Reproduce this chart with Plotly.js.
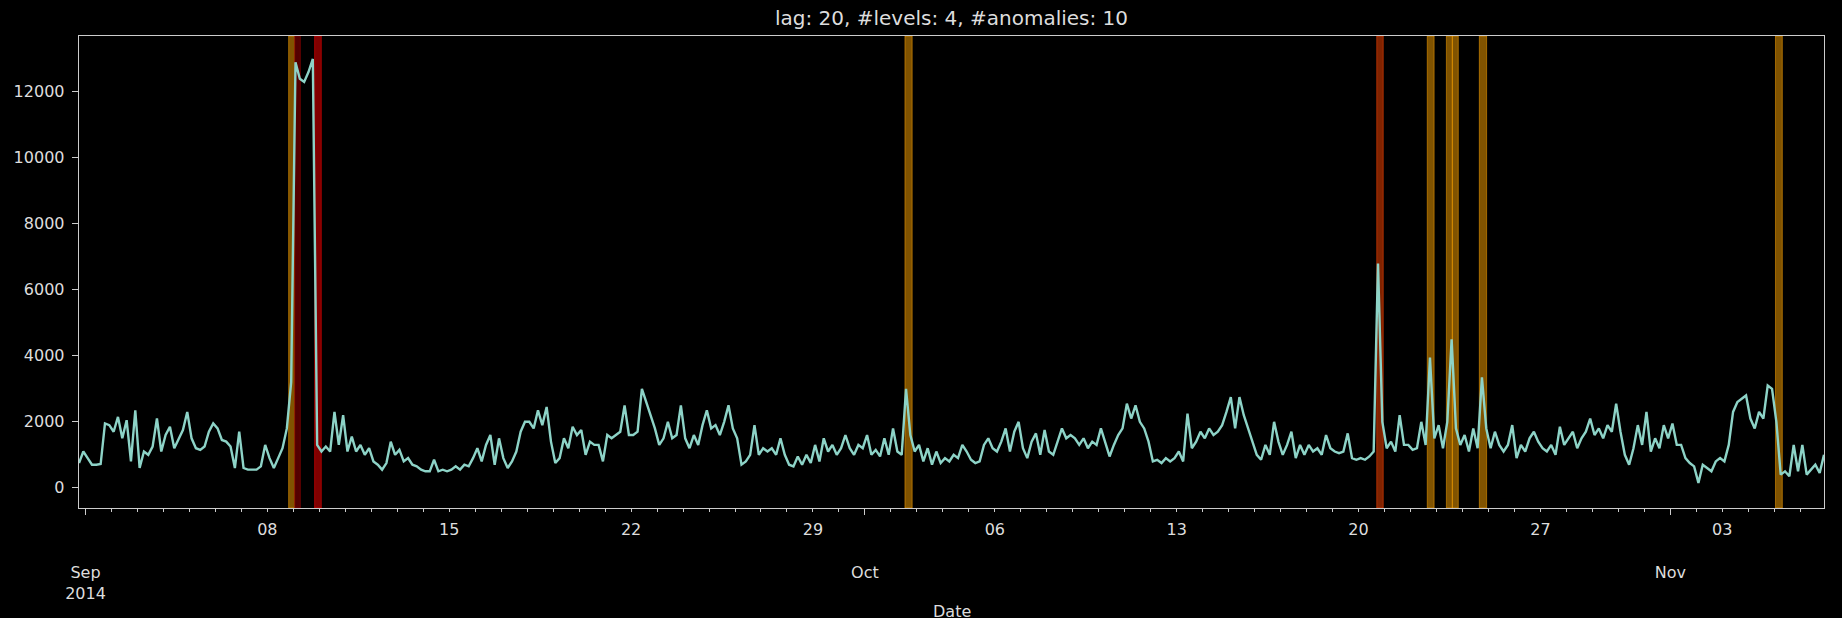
<!DOCTYPE html>
<html>
<head>
<meta charset="utf-8">
<script src="https://cdn.plot.ly/plotly-3.0.1.min.js"></script>
<style>
  html, body { margin: 0; padding: 0; background: #000; }
  #chart { width: 1842px; height: 618px; }
</style>
</head>
<body>
<div id="chart"></div>
<script>
// ---- data ----
const seriesStart = "2014-08-31 18:00";   // first sample
const stepHours = 4;                       // sampling step of the values below
const values = [
  750,1100,900,700,700,720,1950,1900,1700,2150,
  1500,2050,800,2350,600,1100,1000,1250,2100,1100,
  1600,1850,1200,1500,1750,2300,1500,1200,1150,1250,
  1700,1950,1800,1450,1400,1250,600,1700,600,550,
  550,550,650,1300,900,600,900,1200,1800,3200,
  12900,12400,12300,12600,13000,1300,1100,1250,1100,2300,
  1300,2200,1100,1550,1100,1300,1000,1200,800,700,
  550,750,1400,1000,1150,800,900,700,650,550,
  500,500,850,500,550,500,550,650,550,700,
  650,900,1200,800,1300,1600,700,1500,900,600,
  800,1100,1700,2000,
  2000,1800,2350,1900,2450,1400,
  750,900,1500,1200,1850,1600,1750,1000,1400,1300,
  1300,800,1600,1500,1600,1700,2500,1600,1600,1700,
  3000,2600,2200,1800,1300,1500,2000,1500,1600,2500,
  1500,1200,1600,1300,1900,2350,1800,1900,1600,2000,
  2500,1800,1500,700,800,1000,1900,1000,1200,1100,
  1200,1000,1500,1000,700,650,950,700,1000,750,
  1300,800,1500,1100,1300,1000,1200,1600,1200,1000,
  1300,1200,1600,1000,1150,950,1500,1000,1800,1100,
  1000,3000,1600,1100,1300,800,1200,700,1100,750,
  900,800,1000,900,1300,
  1100,850,750,800,1300,
  1500,1200,1100,1400,1800,1100,1700,2000,1200,900,
  1400,1650,1000,1750,1100,1000,1400,1800,1500,1600,
  1500,1300,1500,1200,1400,1300,1800,1400,950,1300,
  1600,1800,2550,2100,2500,2000,1800,1400,800,850,
  750,900,800,900,1100,800,2250,1200,1400,1700,
  1500,1800,1600,1700,1900,2300,2750,1800,2750,2200,
  1800,1400,1000,850,1300,1000,2000,1400,1000,1300,
  1700,900,1300,1000,1300,1100,1200,1000,1600,1200,
  1100,1050,1100,1650,900,850,900,850,950,1100,
  6800,2000,1200,1400,1100,2200,1300,
  1300,1150,1200,
  2000,1300,3950,1500,1900,1200,2000,4500,1800,1300,
  1600,1100,1800,1200,3350,1800,1200,1700,1300,1100,
  1300,1900,900,1300,1100,1500,1700,1400,1200,1100,
  1300,1000,1850,1300,1500,1700,1200,1500,1700,2100,
  1600,1800,1500,1900,1700,2550,1700,1000,700,1200,
  1900,1300,2300,1100,1500,1200,1900,1500,1950,1300,
  1300,900,750,650,150,700,600,500,800,900,
  800,1300,2300,2600,2700,2800,2100,1800,2300,2100,
  3100,3000,2000,400,500,350,1300,500,1300,400,
  550,700,450,1000
];

// anomaly bands (start, end, level colour)
const bandStarts = ["2014-09-08 19:40","2014-09-09 01:10","2014-09-09 19:40","2014-10-02 13:00","2014-10-20 16:50",
                    "2014-10-22 15:30","2014-10-23 09:10","2014-10-23 14:40","2014-10-24 15:36","2014-11-05 01:10"];
const bandEnds   = ["2014-09-09 01:10","2014-09-09 06:30","2014-09-10 01:50","2014-10-02 19:40","2014-10-20 22:50",
                    "2014-10-22 21:50","2014-10-23 14:40","2014-10-23 20:10","2014-10-24 22:20","2014-11-05 07:30"];
const bandLevels = ["orange","darkred","red","orange","orangered","orange","orange","orange","orange","orange"];
const levelColors = {
  orange:    "rgba(255,165,0,0.5)",
  orangered: "rgba(255,69,0,0.5)",
  red:       "rgba(255,0,0,0.5)",
  darkred:   "rgba(139,0,0,0.6)"
};

// axis ticks
const weekTicks  = ["2014-09-08","2014-09-15","2014-09-22","2014-09-29","2014-10-06","2014-10-13","2014-10-20","2014-10-27","2014-11-03"];
const weekLabels = ["08","15","22","29","06","13","20","27","03"];
const monthTicks  = ["2014-09-01","2014-10-01","2014-11-01"];
const monthLabels = ["Sep<br>2014","Oct","Nov"];
const yTicks      = [0,2000,4000,6000,8000,10000,12000];
const yTickLabels = ["0","2000","4000","6000","8000","10000","12000"];

const xRange = ["2014-08-31 18:00","2014-11-06 22:00"];
const yRange = [-612, 13694];

// ---- build ----
function parseLocal(s){ // "YYYY-MM-DD HH:MM" -> ms UTC
  const [d,t] = s.split(" ");
  const [Y,M,D] = d.split("-").map(Number);
  const [h,m] = (t||"00:00").split(":").map(Number);
  return Date.UTC(Y,M-1,D,h,m);
}
function fmt(ms){
  const d = new Date(ms);
  const p = n => String(n).padStart(2,"0");
  return d.getUTCFullYear()+"-"+p(d.getUTCMonth()+1)+"-"+p(d.getUTCDate())+" "+p(d.getUTCHours())+":"+p(d.getUTCMinutes());
}
const t0 = parseLocal(seriesStart);
const xs = values.map((v,i)=>fmt(t0 + i*stepHours*3600e3));

const axisColor = "#cccccc";
const textColor = "#dddddd";
const font = {family: "DejaVu Sans, sans-serif", size: 16, color: textColor};

const traces = [
  {x: xs, y: values, type: "scatter", mode: "lines",
   line: {color: "#8dd3c7", width: 2.4}, hoverinfo: "skip", showlegend: false},
  {x: [xRange[0]], y: [0], xaxis: "x2", type: "scatter", mode: "markers",
   marker: {opacity: 0}, hoverinfo: "skip", showlegend: false}
];

const shapes = bandStarts.map((s,k)=>({
  type: "rect", xref: "x", yref: "paper", x0: s, x1: bandEnds[k], y0: 0, y1: 1,
  fillcolor: levelColors[bandLevels[k]], line: {width: 1, color: levelColors[bandLevels[k]]}, layer: "below"
}));

const layout = {
  width: 1842, height: 618,
  paper_bgcolor: "#000", plot_bgcolor: "#000",
  margin: {l: 79, r: 18, t: 36, b: 110, pad: 0},
  font: font,
  title: {text: "lag: 20, #levels: 4, #anomalies: 10", font: {family: "DejaVu Sans, sans-serif", size: 20, color: textColor},
          x: 0.5, xref: "paper", y: 1 - 17.5/618, yref: "container", xanchor: "center", yanchor: "middle"},
  xaxis: {type: "date", range: xRange, showgrid: false, zeroline: false,
          showline: true, mirror: true, linecolor: axisColor, linewidth: 1.3,
          tickmode: "array", tickvals: weekTicks, ticktext: weekLabels,
          ticks: "outside", ticklen: 3, tickwidth: 1, tickcolor: axisColor, ticklabelstandoff: 3,
          tickfont: font,
          minor: {tickmode: "linear", tick0: "2014-09-01", dtick: 86400000, ticks: "outside", ticklen: 3, tickwidth: 1, tickcolor: axisColor, showgrid: false}},
  xaxis2: {type: "date", range: xRange, overlaying: "x", anchor: "y", side: "bottom",
           showgrid: false, zeroline: false, showline: false,
           tickmode: "array", tickvals: monthTicks, ticktext: monthLabels,
           ticks: "outside", ticklen: 6, tickwidth: 1, tickcolor: axisColor,
           ticklabelstandoff: 44, tickfont: font},
  yaxis: {range: yRange, showgrid: false, zeroline: false,
          showline: true, mirror: true, linecolor: axisColor, linewidth: 1.3,
          tickmode: "array", tickvals: yTicks, ticktext: yTickLabels, ticks: "outside", ticklen: 6, tickcolor: axisColor,
          ticklabelstandoff: 4, tickfont: font},
  shapes: shapes,
  annotations: [{text: "Date", xref: "paper", yref: "paper", x: 0.5, y: -(612-508.5)/472, xanchor: "center", yanchor: "middle",
                 showarrow: false, font: font}]
};

Plotly.newPlot("chart", traces, layout, {staticPlot: true, displayModeBar: false});
</script>
</body>
</html>
